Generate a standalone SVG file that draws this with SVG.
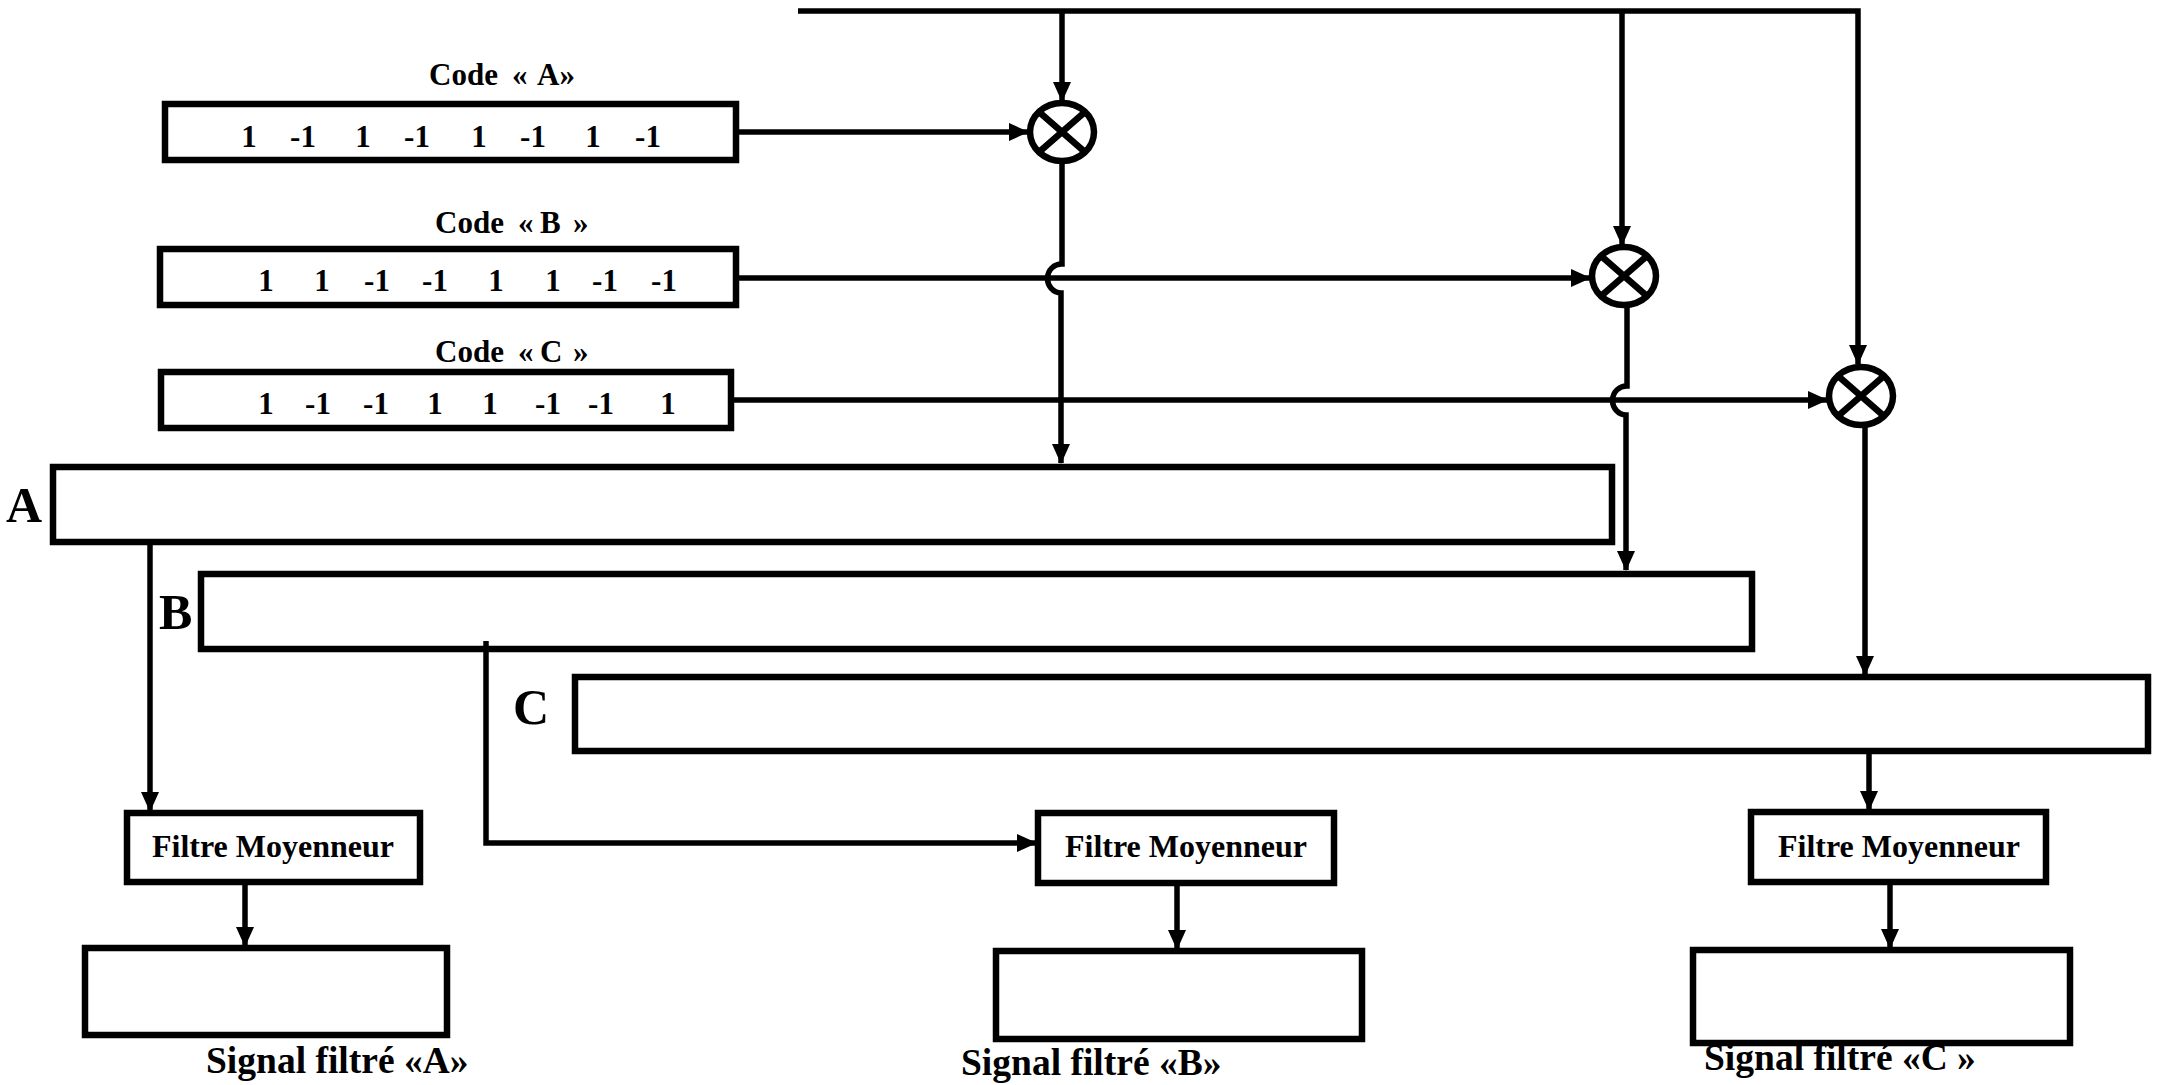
<svg xmlns="http://www.w3.org/2000/svg" width="2158" height="1085" viewBox="0 0 2158 1085">
<style>
.box{fill:none;stroke:#000;stroke-width:6.5}
.ln{fill:none;stroke:#000;stroke-width:5.5}
.t{font-family:"Liberation Serif","Times New Roman",serif;font-weight:bold;fill:#000}
.code{font-size:31px}
.dig{font-size:31px;text-anchor:middle}
.big{font-size:50px}
.flt{font-size:32px;text-anchor:middle}
.sig{font-size:37.5px}
</style>
<defs>
<marker id="ah" markerUnits="userSpaceOnUse" markerWidth="20" markerHeight="18" refX="19" refY="9" orient="auto">
<path d="M0,0 L20,9 L0,18 Z" fill="#000"/>
</marker>
</defs>
<rect width="2158" height="1085" fill="#fff"/>

<g id="connectors">
<path class="ln" d="M798,11 H1858 V364" marker-end="url(#ah)"/>
<path class="ln" d="M1062,11 V101" marker-end="url(#ah)"/>
<path class="ln" d="M1622,11 V245" marker-end="url(#ah)"/>
<path class="ln" d="M736,132 H1028" marker-end="url(#ah)"/>
<path class="ln" d="M736,278 H1590" marker-end="url(#ah)"/>
<path class="ln" d="M731,400 H1827" marker-end="url(#ah)"/>
<path class="ln" d="M1062,162 V264 A14,14.5 0 0 0 1061,293 V463" marker-end="url(#ah)"/>
<path class="ln" d="M1627,306 V386 A14,14.5 0 0 0 1626,415 V570" marker-end="url(#ah)"/>
<path class="ln" d="M1865,427 V675" marker-end="url(#ah)"/>
<path class="ln" d="M150,540 V811" marker-end="url(#ah)"/>
<path class="ln" d="M486,641 V843 H1036" marker-end="url(#ah)"/>
<path class="ln" d="M1869,751 V810" marker-end="url(#ah)"/>
<path class="ln" d="M245,884 V946" marker-end="url(#ah)"/>
<path class="ln" d="M1177,884 V949" marker-end="url(#ah)"/>
<path class="ln" d="M1890,883 V948" marker-end="url(#ah)"/>
</g>

<g id="codeA">
<text class="t code" y="85"><tspan x="429">Code</tspan><tspan x="512">«</tspan><tspan x="537">A»</tspan></text>
<rect class="box" x="165" y="104" width="571" height="56"/>
<text class="t dig" y="147"><tspan x="249">1</tspan><tspan x="303">-1</tspan><tspan x="363">1</tspan><tspan x="417">-1</tspan><tspan x="479">1</tspan><tspan x="533">-1</tspan><tspan x="593">1</tspan><tspan x="648">-1</tspan></text>
</g>
<g id="codeB">
<text class="t code" y="233"><tspan x="435">Code</tspan><tspan x="518">«</tspan><tspan x="540">B</tspan><tspan x="573">»</tspan></text>
<rect class="box" x="160" y="249" width="576" height="56"/>
<text class="t dig" y="291"><tspan x="266">1</tspan><tspan x="322">1</tspan><tspan x="377">-1</tspan><tspan x="435">-1</tspan><tspan x="496">1</tspan><tspan x="553">1</tspan><tspan x="605">-1</tspan><tspan x="664">-1</tspan></text>
</g>
<g id="codeC">
<text class="t code" y="362"><tspan x="435">Code</tspan><tspan x="518">«</tspan><tspan x="540">C</tspan><tspan x="573">»</tspan></text>
<rect class="box" x="161" y="372" width="570" height="56"/>
<text class="t dig" y="414"><tspan x="266">1</tspan><tspan x="318">-1</tspan><tspan x="376">-1</tspan><tspan x="435">1</tspan><tspan x="490">1</tspan><tspan x="548">-1</tspan><tspan x="601">-1</tspan><tspan x="668">1</tspan></text>
</g>

<g id="mulA">
<ellipse class="box" cx="1062" cy="132" rx="32" ry="29"/>
<path class="box" d="M1039.4,112.2 L1084.6,151.8 M1084.6,112.2 L1039.4,151.8"/>
</g>
<g id="mulB">
<ellipse class="box" cx="1624" cy="276" rx="32" ry="29"/>
<path class="box" d="M1601.4,256.2 L1646.6,295.8 M1646.6,256.2 L1601.4,295.8"/>
</g>
<g id="mulC">
<ellipse class="box" cx="1861" cy="396" rx="32" ry="29"/>
<path class="box" d="M1838.4,376.2 L1883.6,415.8 M1883.6,376.2 L1838.4,415.8"/>
</g>

<g id="chanA">
<text class="t big" x="6" y="522">A</text>
<rect class="box" x="53" y="467" width="1559" height="75"/>
</g>
<g id="chanB">
<text class="t big" x="159" y="629">B</text>
<rect class="box" x="201" y="574" width="1551" height="75"/>
</g>
<g id="chanC">
<text class="t big" x="513" y="724">C</text>
<rect class="box" x="575" y="677" width="1573" height="74"/>
</g>

<g id="filtreA">
<rect class="box" x="127" y="813" width="293" height="69"/>
<text class="t flt" x="273" y="857">Filtre Moyenneur</text>
</g>
<g id="filtreB">
<rect class="box" x="1038" y="813" width="296" height="70"/>
<text class="t flt" x="1186" y="857">Filtre Moyenneur</text>
</g>
<g id="filtreC">
<rect class="box" x="1751" y="812" width="295" height="70"/>
<text class="t flt" x="1899" y="857">Filtre Moyenneur</text>
</g>

<g id="sigA">
<rect class="box" x="85" y="948" width="362" height="87"/>
<text class="t sig" x="206" y="1073">Signal filtré «A»</text>
</g>
<g id="sigB">
<rect class="box" x="996" y="951" width="366" height="88"/>
<text class="t sig" x="961" y="1075">Signal filtré «B»</text>
</g>
<g id="sigC">
<rect class="box" x="1693" y="950" width="377" height="93"/>
<text class="t sig" x="1704" y="1070">Signal filtré «C »</text>
</g>
</svg>
